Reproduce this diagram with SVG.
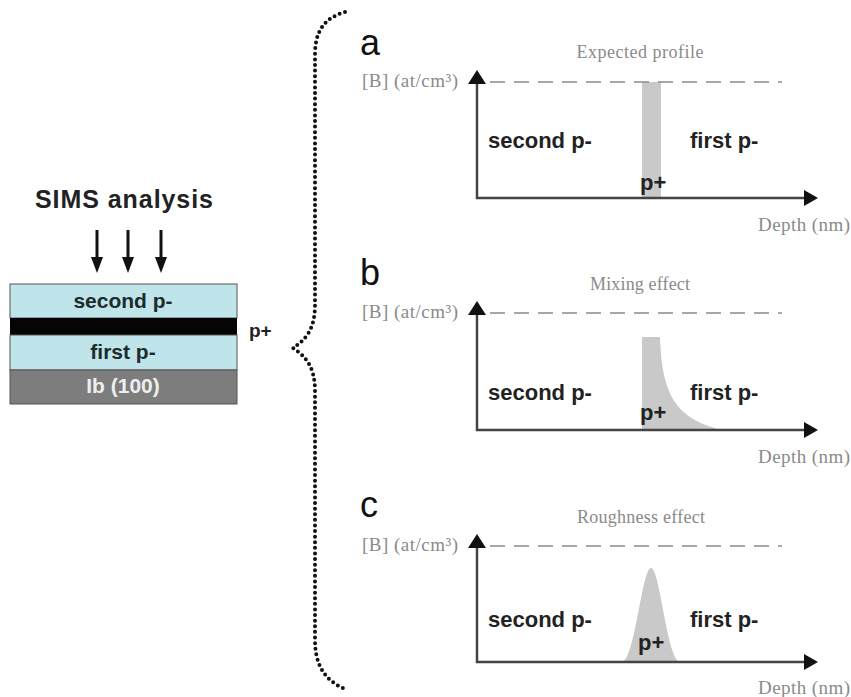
<svg xmlns="http://www.w3.org/2000/svg" width="851" height="697" viewBox="0 0 851 697">
<style>
.bold{font-family:"Liberation Sans",Arial,sans-serif;font-weight:bold;fill:#222}
.stk{font-family:"Liberation Sans",Arial,sans-serif;font-weight:bold;font-size:21px;text-anchor:middle}
.lbl{font-family:"Liberation Sans",Arial,sans-serif;font-size:36px;fill:#111}
.serif{font-family:"Liberation Serif","Times New Roman",serif;fill:#8a8a8a}
.axis{stroke:#444;stroke-width:2.5;fill:none}
.dash{stroke:#8c8c8c;stroke-width:1.6;stroke-dasharray:15 9;fill:none}
.prof{fill:#c9c9c9}
.head{fill:#111}
</style>
<rect width="851" height="697" fill="#fff"/>

<g id="sims-title">
<text x="124" y="208" class="bold" font-size="25" text-anchor="middle" textLength="178" fill="#111">SIMS analysis</text>
</g>
<g id="sims-arrows">
<g stroke="#111" stroke-width="3">
<line x1="97" y1="230" x2="97" y2="260"/>
<line x1="128" y1="230" x2="128" y2="260"/>
<line x1="161" y1="230" x2="161" y2="260"/>
</g>
<g fill="#111">
<polygon points="91,257 103,257 97,273"/>
<polygon points="122,257 134,257 128,273"/>
<polygon points="155,257 167,257 161,273"/>
</g>
</g>

<g id="stack">
<rect x="10" y="284" width="227" height="34" fill="#bfe5eb" stroke="#555" stroke-width="1"/>
<rect x="10" y="318" width="227" height="17" fill="#050505"/>
<rect x="10" y="335" width="227" height="35" fill="#bfe5eb" stroke="#555" stroke-width="1"/>
<rect x="10" y="370" width="227" height="34" fill="#7d7d7d" stroke="#555" stroke-width="1"/>
<text x="123" y="308" class="stk" fill="#1d2b2b">second p-</text>
<text x="123" y="359" class="stk" fill="#1d2b2b">first p-</text>
<text x="123" y="393" class="stk" fill="#eeeeee">Ib (100)</text>
<text x="249" y="337" class="bold" font-size="19">p+</text>
</g>

<g id="brace">
<path d="M345,12 C325,18 315,30 315,55 L315,305 C315,330 305,340 293,348 C305,356 315,366 315,391 L315,640 C315,665 325,680 343,688" fill="none" stroke="#111" stroke-width="4" stroke-linecap="round" stroke-dasharray="0 5.6"/>
</g>

<g id="panel-a">
<text x="360" y="55" class="lbl">a</text>
<text x="640" y="58" class="serif" font-size="18" text-anchor="middle" textLength="127">Expected profile</text>
<text x="362" y="87" class="serif" font-size="19" textLength="96" fill="#999">[B] (at/cm³)</text>
<rect x="642" y="82" width="19" height="116" class="prof"/>
<line x1="490" y1="82" x2="782" y2="82" class="dash"/>
<polyline points="477,80 477,198 806,198" class="axis"/>
<polygon points="468,84 486,84 477,70" class="head"/>
<polygon points="804,190 804,206 818,198" class="head"/>
<text x="488" y="148" class="bold" font-size="22">second p-</text>
<text x="690" y="148" class="bold" font-size="22">first p-</text>
<text x="640" y="190" class="bold" font-size="22">p+</text>
<text x="850" y="231" class="serif" font-size="19" text-anchor="end" textLength="92">Depth (nm)</text>
</g>

<g id="panel-b">
<text x="360" y="285" class="lbl">b</text>
<text x="640" y="290" class="serif" font-size="18" text-anchor="middle" textLength="100">Mixing effect</text>
<text x="362" y="318" class="serif" font-size="19" textLength="96" fill="#999">[B] (at/cm³)</text>
<path d="M642,430 L642,337 L660,337 C662,390 672,418 722,430 Z" class="prof"/>
<line x1="490" y1="313" x2="782" y2="313" class="dash"/>
<polyline points="477,311 477,430 806,430" class="axis"/>
<polygon points="468,315 486,315 477,301" class="head"/>
<polygon points="804,422 804,438 818,430" class="head"/>
<text x="488" y="400" class="bold" font-size="22">second p-</text>
<text x="690" y="400" class="bold" font-size="22">first p-</text>
<text x="640" y="420" class="bold" font-size="22">p+</text>
<text x="850" y="463" class="serif" font-size="19" text-anchor="end" textLength="92">Depth (nm)</text>
</g>

<g id="panel-c">
<text x="360" y="517" class="lbl">c</text>
<text x="641" y="523" class="serif" font-size="18" text-anchor="middle" textLength="128">Roughness effect</text>
<text x="362" y="551" class="serif" font-size="19" textLength="96" fill="#999">[B] (at/cm³)</text>
<path d="M622,662 C635,660 642,568 651,568 C660,568 667,660 680,662 Z" class="prof"/>
<line x1="490" y1="546" x2="782" y2="546" class="dash"/>
<polyline points="477,544 477,662 806,662" class="axis"/>
<polygon points="468,548 486,548 477,534" class="head"/>
<polygon points="804,654 804,670 818,662" class="head"/>
<text x="488" y="627" class="bold" font-size="22">second p-</text>
<text x="690" y="627" class="bold" font-size="22">first p-</text>
<text x="638" y="650" class="bold" font-size="22">p+</text>
<text x="850" y="694" class="serif" font-size="19" text-anchor="end" textLength="92">Depth (nm)</text>
</g>
</svg>
